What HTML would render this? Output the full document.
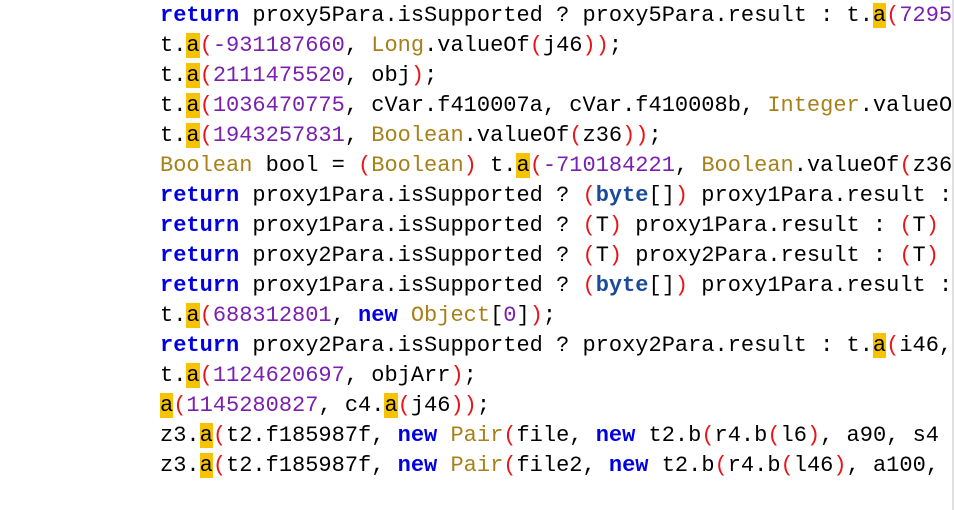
<!DOCTYPE html>
<html><head><meta charset="utf-8"><style>
html,body{margin:0;padding:0;background:#fff;width:954px;height:510px;overflow:hidden}
pre{position:absolute;left:160px;top:1px;margin:0;font-family:"Liberation Mono",monospace;font-size:22px;line-height:30px;color:#000;white-space:pre}
.k{color:#0000e0;font-weight:bold}
.b{color:#1a4a9a;font-weight:bold}
.n{color:#7a1fb0}
.c{color:#a8801a}
.p{color:#e8141a}
.h{background:#f7c300}
.edge{position:absolute;left:952px;top:0;width:2px;height:510px;background:#e0e0e0}
</style></head><body>
<pre><span class="k">return</span> proxy5Para.isSupported ? proxy5Para.result : t.<span class="h">a</span><span class="p">(</span><span class="n">7295</span>
t.<span class="h">a</span><span class="p">(</span><span class="n">-931187660</span>, <span class="c">Long</span>.valueOf<span class="p">(</span>j46<span class="p">))</span>;
t.<span class="h">a</span><span class="p">(</span><span class="n">2111475520</span>, obj<span class="p">)</span>;
t.<span class="h">a</span><span class="p">(</span><span class="n">1036470775</span>, cVar.f410007a, cVar.f410008b, <span class="c">Integer</span>.valueO
t.<span class="h">a</span><span class="p">(</span><span class="n">1943257831</span>, <span class="c">Boolean</span>.valueOf<span class="p">(</span>z36<span class="p">))</span>;
<span class="c">Boolean</span> bool = <span class="p">(</span><span class="c">Boolean</span><span class="p">)</span> t.<span class="h">a</span><span class="p">(</span><span class="n">-710184221</span>, <span class="c">Boolean</span>.valueOf<span class="p">(</span>z36
<span class="k">return</span> proxy1Para.isSupported ? <span class="p">(</span><span class="b">byte</span>[]<span class="p">)</span> proxy1Para.result :
<span class="k">return</span> proxy1Para.isSupported ? <span class="p">(</span>T<span class="p">)</span> proxy1Para.result : <span class="p">(</span>T<span class="p">)</span>
<span class="k">return</span> proxy2Para.isSupported ? <span class="p">(</span>T<span class="p">)</span> proxy2Para.result : <span class="p">(</span>T<span class="p">)</span>
<span class="k">return</span> proxy1Para.isSupported ? <span class="p">(</span><span class="b">byte</span>[]<span class="p">)</span> proxy1Para.result :
t.<span class="h">a</span><span class="p">(</span><span class="n">688312801</span>, <span class="k">new</span> <span class="c">Object</span>[<span class="n">0</span>]<span class="p">)</span>;
<span class="k">return</span> proxy2Para.isSupported ? proxy2Para.result : t.<span class="h">a</span><span class="p">(</span>i46,
t.<span class="h">a</span><span class="p">(</span><span class="n">1124620697</span>, objArr<span class="p">)</span>;
<span class="h">a</span><span class="p">(</span><span class="n">1145280827</span>, c4.<span class="h">a</span><span class="p">(</span>j46<span class="p">))</span>;
z3.<span class="h">a</span><span class="p">(</span>t2.f185987f, <span class="k">new</span> <span class="c">Pair</span><span class="p">(</span>file, <span class="k">new</span> t2.b<span class="p">(</span>r4.b<span class="p">(</span>l6<span class="p">)</span>, a90, s4
z3.<span class="h">a</span><span class="p">(</span>t2.f185987f, <span class="k">new</span> <span class="c">Pair</span><span class="p">(</span>file2, <span class="k">new</span> t2.b<span class="p">(</span>r4.b<span class="p">(</span>l46<span class="p">)</span>, a100,</pre>
<div class="edge"></div>
</body></html>
